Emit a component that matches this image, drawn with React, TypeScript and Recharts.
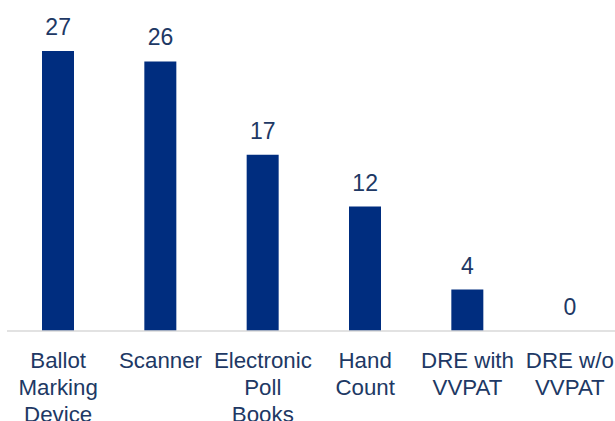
import React from 'react';
import { ComposedChart, Bar, Line, XAxis, YAxis, LabelList } from 'recharts';

const categories = ['Ballot Marking Device', 'Scanner', 'Electronic Poll Books', 'Hand Count', 'DRE with VVPAT', 'DRE w/o VVPAT'];
const tickLines = [
  ['Ballot', 'Marking', 'Device'],
  ['Scanner'],
  ['Electronic', 'Poll', 'Books'],
  ['Hand', 'Count'],
  ['DRE with', 'VVPAT'],
  ['DRE w/o', 'VVPAT'],
];
const counts = [27, 26, 17, 12, 4, 0];

const data = categories.map((name, i) => ({ name, value: counts[i] }));

const textColor = '#203864';

function CategoryTick(props: any) {
  const { x, y, index } = props;
  const lines = tickLines[index] || [];
  return (
    <g transform={`translate(${x},${y}) scale(0.97,1)`}>
      <text
        x={0}
        y={0}
        textAnchor="middle"
        fill={textColor}
        fontSize={23}
        fontFamily="'Liberation Sans', Arial, sans-serif"
      >
        {lines.map((l, i) => (
          <tspan key={i} x={0} dy={i === 0 ? 29 : 27}>{l}</tspan>
        ))}
      </text>
    </g>
  );
}

export default function App() {
  return (
    <div style={{ position: 'absolute', left: 0, top: 0, width: 615, height: 421, overflow: 'hidden', background: '#fff' }}>
      <ComposedChart
        width={622}
        height={421}
        data={data}
        margin={{ top: 20, right: 1, bottom: 0, left: 7 }}
      >
        <XAxis
          dataKey="name"
          interval={0}
          tickLine={false}
          axisLine={{ stroke: '#d9d9d9', strokeWidth: 1.5 }}
          height={90}
          tick={<CategoryTick />}
        />
        <YAxis hide domain={[0, 30]} />
        <Bar dataKey="value" fill="#002D7F" barSize={32} isAnimationActive={false} />
        <Line dataKey="value" stroke="none" dot={false} activeDot={false} isAnimationActive={false}>
          <LabelList
            dataKey="value"
            position="top"
            offset={16}
            fill={textColor}
            fontSize={23}
            fontFamily="'Liberation Sans', Arial, sans-serif"
          />
        </Line>
      </ComposedChart>
    </div>
  );
}
